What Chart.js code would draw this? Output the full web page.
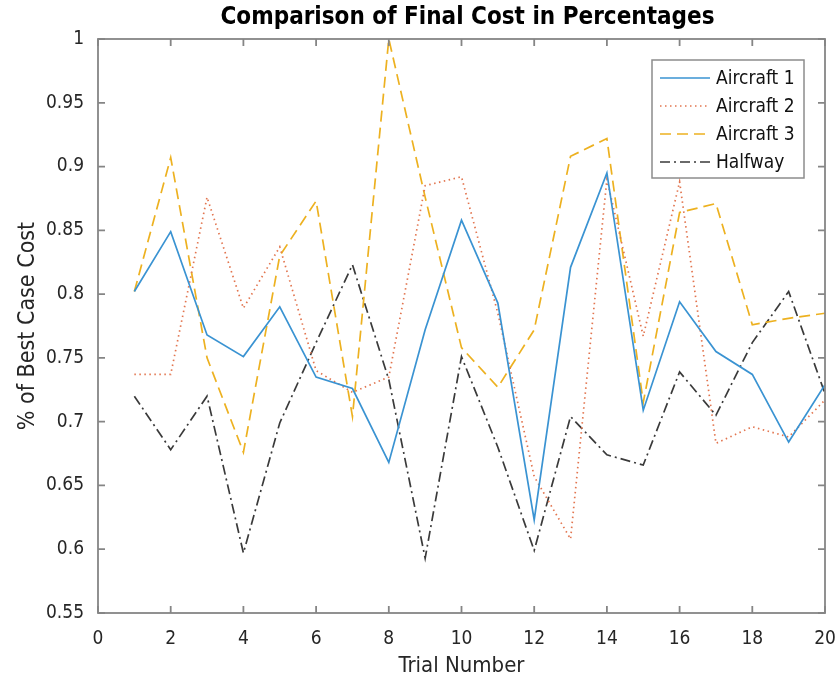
<!DOCTYPE html>
<html>
<head>
<meta charset="utf-8">
<title>Final Cost</title>
<script src="https://cdn.jsdelivr.net/npm/chart.js@4.4.1/dist/chart.umd.min.js"></script>
<style>
  body { margin: 0; background: #fff; }
  #wrap { width: 836px; height: 683px; }
</style>
</head>
<body>
<div id="wrap"><canvas id="cost-chart" width="836" height="683"></canvas></div>
<script>
// trial numbers and cost ratios (fraction of best case)
var trials = [1, 2, 3, 4, 5, 6, 7, 8, 9, 10, 11, 12, 13, 14, 15, 16, 17, 18, 19, 20];
var aircraft1 = [0.802, 0.849, 0.768, 0.751, 0.790, 0.735, 0.726, 0.668, 0.772, 0.858,
                 0.793, 0.623, 0.821, 0.895, 0.709, 0.794, 0.755, 0.737, 0.684, 0.729];
var aircraft2 = [0.737, 0.737, 0.876, 0.789, 0.837, 0.740, 0.723, 0.735, 0.885, 0.892,
                 0.785, 0.657, 0.608, 0.890, 0.767, 0.888, 0.683, 0.696, 0.688, 0.717];
var aircraft3 = [0.802, 0.907, 0.750, 0.676, 0.830, 0.873, 0.704, 1.000, 0.876, 0.758,
                 0.727, 0.772, 0.908, 0.922, 0.715, 0.864, 0.871, 0.776, 0.781, 0.785];
var halfway   = [0.720, 0.678, 0.720, 0.597, 0.699, 0.762, 0.823, 0.733, 0.593, 0.751,
                 0.680, 0.599, 0.704, 0.674, 0.666, 0.739, 0.705, 0.762, 0.802, 0.722];

var xTicks = [0, 2, 4, 6, 8, 10, 12, 14, 16, 18, 20];
var yTicks = [0.55, 0.6, 0.65, 0.7, 0.75, 0.8, 0.85, 0.9, 0.95, 1];

var FONT = 'DejaVu Sans Condensed';
var INK = '#262626';

function pts(ys) {
	return trials.map(function (t, i) { return { x: t, y: ys[i] }; });
}

function series(label, ys, color, dash) {
	return {
		label: label,
		data: pts(ys),
		borderColor: color,
		backgroundColor: color,
		borderWidth: 1.7,
		borderDash: dash,
		pointRadius: 0,
		tension: 0,
		fill: false
	};
}

// box round the axes, ticks pointing inward, title and legend
var matlabAxes = {
	id: 'matlabAxes',
	afterDatasetsDraw: function (chart) {
		var ctx = chart.ctx, a = chart.chartArea;
		var xs = chart.scales.x, ys = chart.scales.y;
		var len = 7;
		ctx.save();
		ctx.strokeStyle = '#858585';
		ctx.lineWidth = 1.8;
		ctx.strokeRect(a.left, a.top, a.right - a.left, a.bottom - a.top);
		ctx.beginPath();
		xTicks.forEach(function (v) {
			var px = xs.getPixelForValue(v);
			ctx.moveTo(px, a.bottom); ctx.lineTo(px, a.bottom - len);
			ctx.moveTo(px, a.top); ctx.lineTo(px, a.top + len);
		});
		yTicks.forEach(function (v) {
			var py = ys.getPixelForValue(v);
			ctx.moveTo(a.left, py); ctx.lineTo(a.left + len, py);
			ctx.moveTo(a.right, py); ctx.lineTo(a.right - len, py);
		});
		ctx.stroke();

		// title
		ctx.fillStyle = '#000';
		ctx.font = 'bold 24px "' + FONT + '"';
		ctx.textAlign = 'center';
		ctx.textBaseline = 'middle';
		ctx.fillText('Comparison of Final Cost in Percentages', (a.left + a.right) / 2 + 6, 18);

		// legend
		var bx = 652, by = 60, bw = 152, bh = 118;
		ctx.fillStyle = '#fff';
		ctx.fillRect(bx, by, bw, bh);
		ctx.strokeStyle = '#8c8c8c';
		ctx.lineWidth = 1.5;
		ctx.strokeRect(bx, by, bw, bh);
		ctx.font = '19px "' + FONT + '"';
		ctx.textAlign = 'left';
		chart.data.datasets.forEach(function (ds, i) {
			var y = by + 18 + i * 28;
			ctx.beginPath();
			ctx.setLineDash(ds.borderDash || []);
			ctx.strokeStyle = ds.borderColor;
			ctx.lineWidth = ds.borderWidth;
			ctx.moveTo(bx + 8, y);
			ctx.lineTo(bx + 58, y);
			ctx.stroke();
			ctx.setLineDash([]);
			ctx.fillStyle = '#111';
			ctx.fillText(ds.label, bx + 64, y + 1);
		});
		ctx.restore();
	}
};

var config = {
	type: 'line',
	data: {
		datasets: [
			series('Aircraft 1', aircraft1, '#3a93d2', []),
			series('Aircraft 2', aircraft2, '#e2754f', [1.5, 3.5]),
			series('Aircraft 3', aircraft3, '#EDB120', [11, 6]),
			series('Halfway', halfway, '#3a3a3a', [10, 4, 2, 4])
		]
	},
	options: {
		responsive: false,
		animation: false,
		layout: { padding: { top: 39, right: 11, left: 0, bottom: 0 } },
		plugins: {
			legend: { display: false },
			title: { display: false },
			tooltip: { enabled: false }
		},
		scales: {
			x: {
				type: 'linear',
				min: 0,
				max: 20,
				afterFit: function (s) { s.height = 70; s.paddingLeft = 0; s.paddingRight = 0; },
				afterBuildTicks: function (s) { s.ticks = xTicks.map(function (v) { return { value: v }; }); },
				grid: { display: false },
				border: { display: false },
				ticks: { color: INK, font: { family: FONT, size: 19 }, padding: 7, maxRotation: 0 },
				title: { display: true, text: 'Trial Number', color: INK, font: { family: FONT, size: 22 }, padding: { top: 4 } }
			},
			y: {
				type: 'linear',
				min: 0.55,
				max: 1,
				afterFit: function (s) { s.width = 98; },
				afterBuildTicks: function (s) { s.ticks = yTicks.map(function (v) { return { value: v }; }); },
				grid: { display: false },
				border: { display: false },
				ticks: {
					color: INK,
					font: { family: FONT, size: 19 },
					padding: 6,
					callback: function (v) { return String(+v.toFixed(2)); }
				},
				title: { display: true, text: '% of Best Case Cost', color: INK, font: { family: FONT, size: 23 }, padding: { top: 14 } }
			}
		}
	},
	plugins: [matlabAxes]
};

var chart = new Chart(document.getElementById('cost-chart').getContext('2d'), config);
</script>
</body>
</html>
